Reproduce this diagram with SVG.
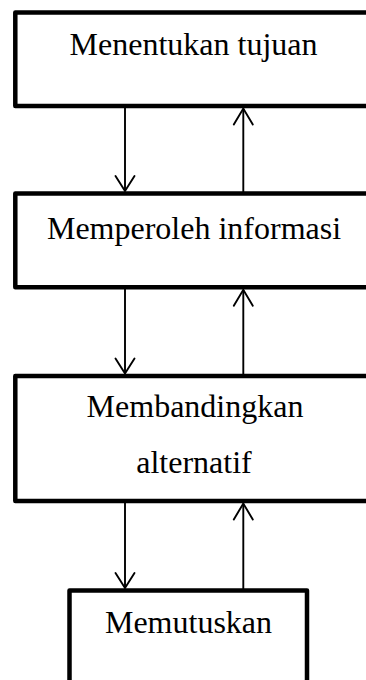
<svg xmlns="http://www.w3.org/2000/svg" width="366" height="680" viewBox="0 0 366 680">
  <style>
    .box { fill: #ffffff; stroke: #000000; stroke-width: 4.5; stroke-linejoin: round; }
    .label { font-family: "Liberation Serif", "Times New Roman", serif; font-size: 32px; fill: #000000; text-anchor: middle; }
    .link { stroke: #000000; stroke-width: 1.9; fill: none; }
    .head { stroke: #000000; stroke-width: 1.9; fill: none; stroke-linecap: round; stroke-linejoin: miter; }
  </style>
  <rect width="366" height="680" fill="#ffffff"/>

  <g id="node-tujuan">
    <rect class="box" x="15.3" y="12.5" width="360" height="93.5"/>
    <text class="label" x="193.5" y="55">Menentukan tujuan</text>
  </g>

  <g id="node-informasi">
    <rect class="box" x="15.3" y="193.5" width="360" height="93.8"/>
    <text class="label" x="194" y="239.3">Memperoleh informasi</text>
  </g>

  <g id="node-alternatif">
    <rect class="box" x="15.3" y="376" width="360" height="125"/>
    <text class="label" x="195" y="417">Membandingkan</text>
    <text class="label" x="194" y="473">alternatif</text>
  </g>

  <g id="node-memutuskan">
    <rect class="box" x="69.5" y="590.5" width="237.5" height="100"/>
    <text class="label" x="188.5" y="633">Memutuskan</text>
  </g>

  <g id="connectors">
    <!-- tujuan <-> informasi -->
    <line class="link" x1="125" y1="106" x2="125" y2="191"/>
    <polyline class="head" points="115.5,176 125,191 134.5,176"/>
    <line class="link" x1="243.3" y1="193.5" x2="243.3" y2="108.5"/>
    <polyline class="head" points="233.8,124.5 243.3,108.5 252.8,124.5"/>

    <!-- informasi <-> alternatif -->
    <line class="link" x1="125" y1="287.3" x2="125" y2="373.5"/>
    <polyline class="head" points="115.5,358.5 125,373.5 134.5,358.5"/>
    <line class="link" x1="243.3" y1="376" x2="243.3" y2="289.8"/>
    <polyline class="head" points="233.8,305.8 243.3,289.8 252.8,305.8"/>

    <!-- alternatif <-> memutuskan -->
    <line class="link" x1="125" y1="501" x2="125" y2="588"/>
    <polyline class="head" points="115.5,573 125,588 134.5,573"/>
    <line class="link" x1="243.3" y1="590.5" x2="243.3" y2="503.5"/>
    <polyline class="head" points="233.8,519.5 243.3,503.5 252.8,519.5"/>
  </g>
</svg>
